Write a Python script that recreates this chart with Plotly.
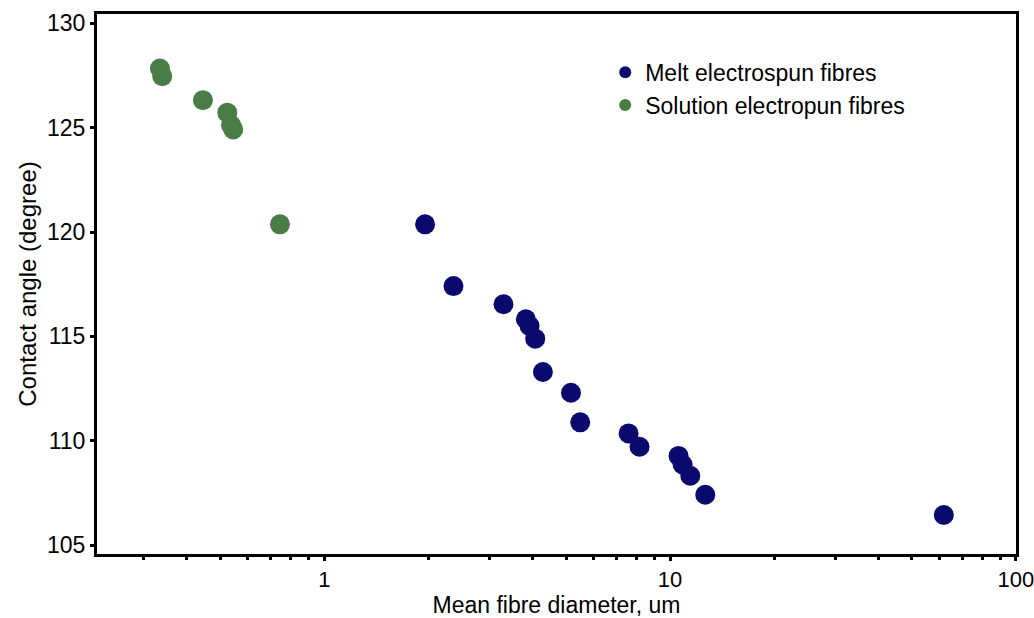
import plotly.graph_objects as go
import math

melt_x = [1.956, 2.363, 3.297, 3.827, 3.922, 4.073, 4.287, 5.168, 5.496, 7.585, 8.159, 10.58, 10.87, 11.44, 12.64, 61.9]
melt_y = [120.37, 117.41, 116.54, 115.82, 115.50, 114.89, 113.29, 112.30, 110.88, 110.35, 109.71, 109.27, 108.86, 108.32, 107.41, 106.44]

sol_x = [0.3345, 0.3397, 0.4455, 0.524, 0.537, 0.545, 0.744]
sol_y = [127.84, 127.47, 126.32, 125.72, 125.13, 124.92, 120.37]

x_major = [1, 10, 100]
x_major_labels = ["1", "10", "100"]
x_minor = [0.3, 0.4, 0.5, 0.6, 0.7, 0.8, 0.9, 2, 3, 4, 5, 6, 7, 8, 9, 20, 30, 40, 50, 60, 70, 80, 90]
y_ticks = [105, 110, 115, 120, 125, 130]

font = "Liberation Sans, Arial, sans-serif"

fig = go.Figure()
fig.add_trace(go.Scatter(x=melt_x, y=melt_y, mode="markers", name="Melt electrospun fibres",
                         marker=dict(size=20, color="#0a0a6e", line=dict(width=0))))
fig.add_trace(go.Scatter(x=sol_x, y=sol_y, mode="markers", name="Solution electropun fibres",
                         marker=dict(size=20, color="#4a7c45", line=dict(width=0))))

fig.update_layout(
    width=1034, height=618,
    margin=dict(l=97, r=18, t=14, b=64),
    paper_bgcolor="white", plot_bgcolor="white",
    font=dict(family=font, color="black"),
    showlegend=True,
    legend=dict(x=0.553, y=0.932, xanchor="left", yanchor="top",
                font=dict(size=23, family=font, color="black"),
                bgcolor="rgba(0,0,0,0)", itemsizing="constant"),
)
fig.update_xaxes(
    type="log", range=[math.log10(0.22), 2.0005],
    tickvals=x_major, ticktext=x_major_labels,
    ticks="outside", ticklen=4, tickwidth=3, tickcolor="black",
    ticklabeloverflow="allow", automargin=False,
    minor=dict(tickvals=x_minor, ticks="outside", ticklen=3, tickwidth=3, tickcolor="black", showgrid=False),
    showline=True, linewidth=3, linecolor="black", mirror=True,
    showgrid=False, zeroline=False,
    tickfont=dict(size=22, family=font, color="black"),
    title=dict(text="Mean fibre diameter, um", font=dict(size=23, family=font, color="black"), standoff=8),
)
fig.update_yaxes(
    range=[104.57, 130.45],
    tickvals=y_ticks, automargin=False,
    ticks="outside", ticklen=4, tickwidth=3, tickcolor="black",
    showline=True, linewidth=3, linecolor="black", mirror=True,
    showgrid=False, zeroline=False,
    tickfont=dict(size=23, family=font, color="black"),
    title=dict(text="Contact angle (degree)", font=dict(size=24, family=font, color="black"), standoff=4),
)

fig.write_html("out.html")
